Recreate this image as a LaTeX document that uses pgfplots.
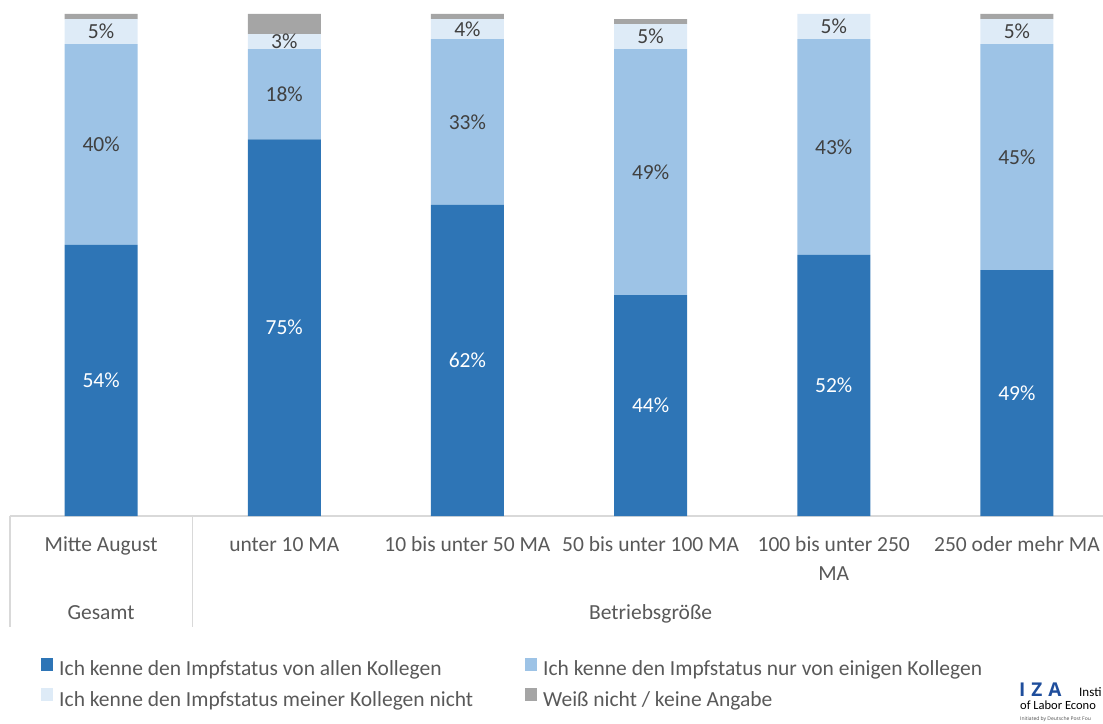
\documentclass[border=0pt]{standalone}
\usepackage{pgfplots}
\pgfplotsset{compat=1.18}
\usepackage{pgfplotstable}
\usepackage{fontspec}
\setmainfont{Carlito}
\newfontfamily\logofont{Open Sans}
\definecolor{cA}{HTML}{2E75B6}
\definecolor{cB}{HTML}{9DC3E6}
\definecolor{cC}{HTML}{DEEBF7}
\definecolor{cD}{HTML}{A5A5A5}
\definecolor{txt}{HTML}{595959}
\definecolor{lab}{HTML}{404040}
\definecolor{grid}{HTML}{D9D9D9}
\definecolor{iza}{HTML}{1F4E9C}
\newcommand\fs{\fontsize{21.5}{29}\selectfont}
\pgfplotstableread{
x a b c d
0 54 40 5 1
1 75 18 3 4
2 62 33 4 1
3 44 49 5 1
4 52 43 5 0
5 49 45 5 1
}\datatable
\begin{document}
\begin{tikzpicture}
\useasboundingbox (0,0) rectangle (1103pt,723pt);
\clip (0,0) rectangle (1103pt,723pt);
\begin{axis}[
  at={(9.5pt,207pt)}, anchor=south west,
  scale only axis, width=1099pt, height=502pt,
  xmin=-0.5, xmax=5.5, ymin=0, ymax=100,
  ybar stacked, bar width=73pt,
  axis lines=none, clip=false,
  xtick=data,
  legend columns=2,
  legend cell align=left,
  legend style={at={(axis description cs:0.0287,-0.283)}, anchor=north west,
    draw=none, fill=none, inner sep=0pt, font=\fs, text=txt, row sep=9pt,
    /tikz/every odd column/.style={column sep=4pt},
    /tikz/every even column/.style={column sep=50pt}},
  legend image code/.code={\fill[#1] (0pt,-2pt) rectangle (12pt,11pt);},
]
\addplot[fill=cA, draw=none] table[x=x, y=a] \datatable;
\addlegendentry{Ich kenne den Impfstatus von allen Kollegen}
\addplot[fill=cB, draw=none] table[x=x, y=b] \datatable;
\addlegendentry{Ich kenne den Impfstatus nur von einigen Kollegen}
\addplot[fill=cC, draw=none] table[x=x, y=c] \datatable;
\addlegendentry{Ich kenne den Impfstatus meiner Kollegen nicht}
\addplot[fill=cD, draw=none] table[x=x, y=d] \datatable;
\addlegendentry{Weiß nicht / keine Angabe}
% category lines
\draw[grid, line width=1.3pt] (axis cs:-0.5,0) -- (axis cs:5.6,0);
\draw[grid, line width=1.3pt] (axis cs:-0.497,0) -- (axis cs:-0.497,-22.1);
\draw[grid, line width=1.3pt] (axis cs:0.5,0) -- (axis cs:0.5,-22.1);
% tick labels
\node[anchor=base, font=\fs, text=txt, inner sep=0pt] at (axis cs:0,-7.15) {Mitte August};
\node[anchor=base, font=\fs, text=txt, inner sep=0pt] at (axis cs:1,-7.15) {unter 10 MA};
\node[anchor=base, font=\fs, text=txt, inner sep=0pt] at (axis cs:2,-7.15) {10 bis unter 50 MA};
\node[anchor=base, font=\fs, text=txt, inner sep=0pt] at (axis cs:3,-7.15) {50 bis unter 100 MA};
\node[anchor=base, font=\fs, text=txt, inner sep=0pt] at (axis cs:4,-7.15) {100 bis unter 250};
\node[anchor=base, font=\fs, text=txt, inner sep=0pt] at (axis cs:4,-12.93) {MA};
\node[anchor=base, font=\fs, text=txt, inner sep=0pt] at (axis cs:5,-7.15) {250 oder mehr MA};
\node[anchor=base, font=\fs, text=txt, inner sep=0pt] at (axis cs:0,-20.7) {Gesamt};
\node[anchor=base, font=\fs, text=txt, inner sep=0pt] at (axis cs:3,-20.7) {Betriebsgröße};
\end{axis}
\begin{axis}[
  at={(9.5pt,207pt)}, anchor=south west,
  scale only axis, width=1099pt, height=502pt,
  xmin=-0.5, xmax=5.5, ymin=0, ymax=100,
  hide axis, clip=false,
  nodes near coords={\pgfmathprintnumber[assume math mode=true]{\pgfplotspointmeta}\%},
  nodes near coords align={center},
  point meta=explicit,
]
\addplot[only marks, mark=none,
  every node near coord/.append style={text=white, font=\fs}]
  table[x=x, y expr=\thisrow{a}/2, meta=a] \datatable;
\addplot[only marks, mark=none,
  every node near coord/.append style={text=lab, font=\fs}]
  table[x=x, y expr=\thisrow{a}+\thisrow{b}/2, meta=b] \datatable;
\addplot[only marks, mark=none,
  every node near coord/.append style={text=lab, font=\fs}]
  table[x=x, y expr=\thisrow{a}+\thisrow{b}+\thisrow{c}/2, meta=c] \datatable;
\end{axis}
% IZA logo
\node[anchor=base west, inner sep=0pt, text=iza, font=\logofont\bfseries\fontsize{19}{19}\selectfont] at (1019pt,27pt) {I\hspace{6pt}Z\hspace{6pt}A};
\node[anchor=base west, inner sep=0pt, text=black, font=\fontsize{13}{13}\selectfont] at (1079pt,27pt) {Insti};
\node[anchor=base west, inner sep=0pt, text=black, font=\fontsize{12.5}{13}\selectfont] at (1020pt,14pt) {of Labor Econo};
\node[anchor=base west, inner sep=0pt, text=black!70, font=\logofont\fontsize{5}{5}\selectfont] at (1020pt,3pt) {Initiated by Deutsche Post Fou};
\end{tikzpicture}
\end{document}
